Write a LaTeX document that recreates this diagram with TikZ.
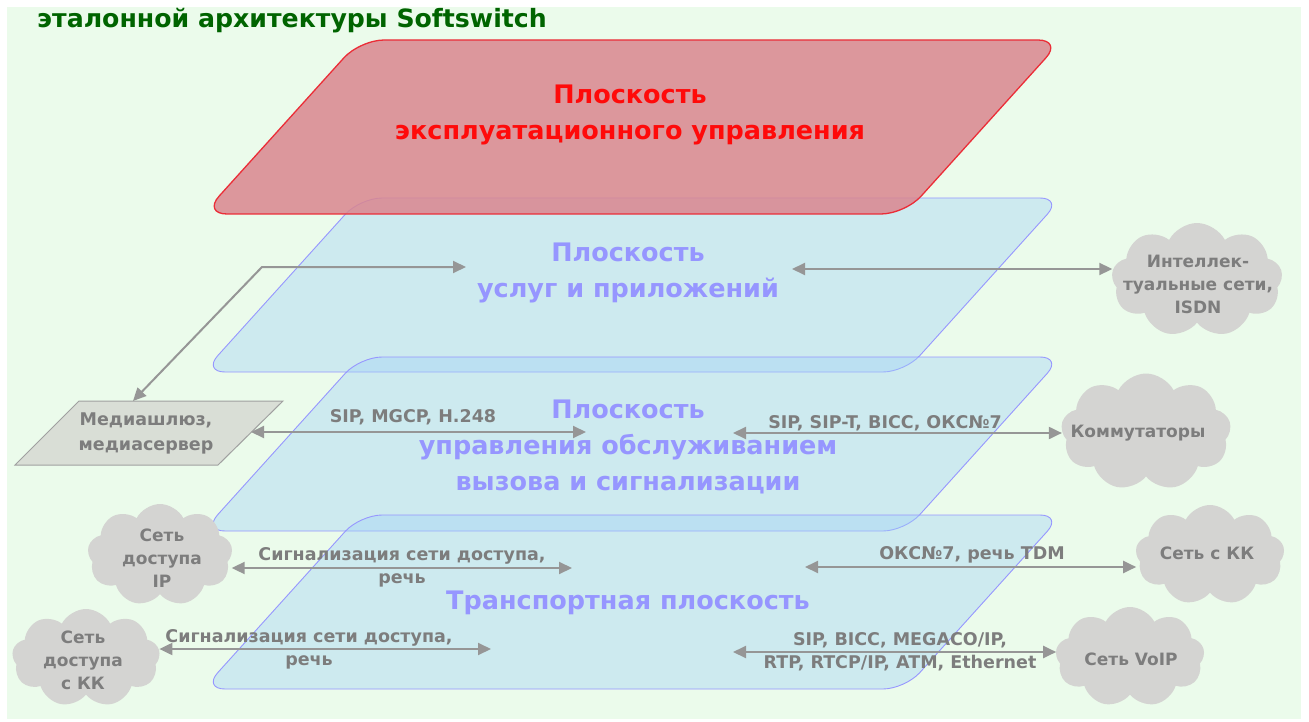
\documentclass[tikz,border=0pt]{standalone}
\usepackage{fontspec}
\setmainfont{DejaVu Sans}
\usetikzlibrary{arrows.meta,shapes.symbols,calc}
\definecolor{bggreen}{RGB}{235,251,235}
\definecolor{titlegreen}{RGB}{0,100,0}
\definecolor{redfill}{RGB}{218,134,143}
\definecolor{redline}{RGB}{235,45,55}
\definecolor{redtxt}{RGB}{255,10,10}
\definecolor{bluefill}{RGB}{160,210,247}
\definecolor{blueline}{RGB}{150,150,255}
\definecolor{bluetxt}{RGB}{150,150,255}
\definecolor{graytxt}{RGB}{125,125,125}
\definecolor{arrgray}{RGB}{150,150,150}
\definecolor{cloudgray}{RGB}{212,212,210}
\definecolor{mgfill}{RGB}{217,222,214}
\definecolor{mgline}{RGB}{160,160,160}
\tikzset{
  redplane/.style={fill=redfill, fill opacity=0.85, draw=redline, line width=1.3pt, rounded corners=24pt},
  blueplane/.style={fill=bluefill, fill opacity=0.4, draw=blueline, line width=0.9pt, rounded corners=22pt},
  ptext/.style={align=center, inner sep=0pt, font=\fontsize{25.5}{36}\selectfont\bfseries},
  lbl/.style={align=center, inner sep=0pt, text=graytxt, font=\fontsize{17.5}{23}\selectfont\bfseries},
  cloudbox/.style={cloud, cloud puffs=9, cloud puff arc=125, cloud ignores aspect, fill=cloudgray, draw=none, inner sep=0pt},
  cloudtext/.style={align=center, inner sep=0pt, text=graytxt, font=\fontsize{17}{23}\selectfont\bfseries},
  arr/.style={draw=arrgray, line width=2pt, {Triangle[length=13pt,width=12pt]}-{Triangle[length=13pt,width=12pt]}},
}
\begin{document}
\begin{tikzpicture}[x=1pt,y=-1pt]
\useasboundingbox (0,0) rectangle (1309,722);
\fill[white] (0,0) rectangle (1309,722);
\fill[bggreen] (7,7) rectangle (1301,719);

\node[anchor=west, inner sep=0pt, text=titlegreen, font=\fontsize{25.2}{30}\selectfont\bfseries] (title) at (37,21) {эталонной архитектуры Softswitch};

% planes
\path[blueplane] (360,198) -- (1062,198) -- (905,372) -- (203,372) -- cycle;
\path[blueplane] (360,357) -- (1062,357) -- (905,531) -- (203,531) -- cycle;
\path[blueplane] (360,515) -- (1062,515) -- (905,689) -- (203,689) -- cycle;
\path[redplane] (360,40) -- (1062,40) -- (905,214) -- (203,214) -- cycle;

\node[ptext, text=redtxt] (tRed) at (630,115) {Плоскость\\эксплуатационного управления};
\node[ptext, text=bluetxt] (tSvc) at (628,273) {Плоскость\\услуг и приложений};
\node[ptext, text=bluetxt] (tCall) at (628,447) {Плоскость\\управления обслуживанием\\вызова и сигнализации};
\node[ptext, text=bluetxt] (tTr) at (628,603) {Транспортная плоскость};

% media gateway
\path[fill=mgfill, draw=mgline, line width=1pt] (79,401) -- (283,401) -- (218,465) -- (15,465) -- cycle;
\node[cloudtext, font=\fontsize{17.5}{25}\selectfont\bfseries] (mg) at (146,433) {Медиашлюз,\\медиасервер};
\coordinate (mgTop) at (133,401);
\coordinate (mgEast) at (251,432);

% clouds
\node[cloudbox, minimum width=171pt, minimum height=114pt] (cInt) at (1197,280) {};
\node[cloudtext] (cIntT) at (1198,284) {Интеллек-\\туальные сети,\\ISDN};
\node[cloudbox, minimum width=170pt, minimum height=117pt] (cKomm) at (1146,432) {};
\node[cloudtext] (cKommT) at (1138,433) {Коммутаторы};
\node[cloudbox, minimum width=145pt, minimum height=102pt] (cIP) at (160,555) {};
\node[cloudtext] (cIPT) at (162,558) {Сеть\\доступа\\IP};
\node[cloudbox, minimum width=148pt, minimum height=98pt] (cKK) at (86,658) {};
\node[cloudtext] (cKKT) at (83,660) {Сеть\\доступа\\с КК};
\node[cloudbox, minimum width=149pt, minimum height=100pt] (cSKK) at (1210,555) {};
\node[cloudtext] (cSKKT) at (1207,553) {Сеть с КК};
\node[cloudbox, minimum width=149pt, minimum height=100pt] (cVoIP) at (1130,657) {};
\node[cloudtext] (cVoIPT) at (1131,659) {Сеть VoIP};

% free ends inside planes
\coordinate (pSvcL) at (466,267);
\coordinate (pSvcR) at (792,269);
\coordinate (pCallL) at (586,432);
\coordinate (pCallR) at (733,433);
\coordinate (pIP) at (572,568);
\coordinate (pSKK) at (805,567);
\coordinate (pKK) at (491,649);
\coordinate (pVoIP) at (733,652);
\coordinate (bend) at (262,267);

% connectors
\draw[arr] (pSvcL) -- (bend) -- (mgTop);
\draw[arr] (pSvcR) -- (pSvcR -| cInt.west);
\draw[arr] (mgEast) -- (pCallL);
\draw[arr] (pCallR) -- (pCallR -| cKomm.west);
\draw[arr] (pIP -| cIP.east) -- (pIP);
\draw[arr] (pSKK) -- (pSKK -| cSKK.west);
\draw[arr] (pKK -| cKK.east) -- (pKK);
\draw[arr] (pVoIP) -- (pVoIP -| cVoIP.west);

% labels
\node[lbl] (l1) at (413,417) {SIP, MGCP, H.248};
\node[lbl] (l2) at (885,423) {SIP, SIP-T, BICC, ОКС№7};
\node[lbl] (l3) at (402,567) {Сигнализация сети доступа,\\речь};
\node[lbl] (l4) at (972,555) {ОКС№7, речь TDM};
\node[lbl] (l5) at (309,649) {Сигнализация сети доступа,\\речь};
\node[lbl] (l6) at (900,652) {SIP, BICC, MEGACO/IP,\\RTP, RTCP/IP, ATM, Ethernet};
\end{tikzpicture}
\end{document}
